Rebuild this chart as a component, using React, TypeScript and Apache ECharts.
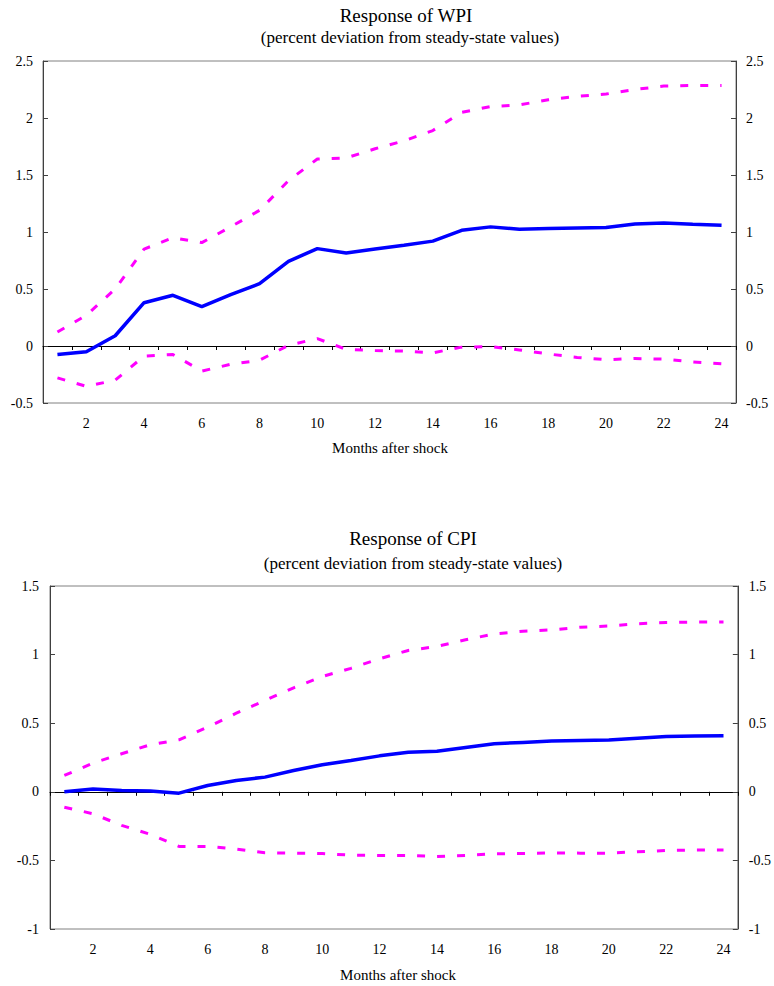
import React, { useEffect, useRef } from "react";
import * as echarts from "echarts";

const months = ["1", "2", "3", "4", "5", "6", "7", "8", "9", "10", "11", "12", "13", "14", "15", "16", "17", "18", "19", "20", "21", "22", "23", "24"];

const wpiResponse = [-0.075, -0.05, 0.09, 0.38, 0.445, 0.345, 0.45, 0.547, 0.743, 0.854, 0.816, 0.85, 0.883, 0.92, 1.015, 1.045, 1.025, 1.03, 1.035, 1.04, 1.07, 1.08, 1.067, 1.06];
const wpiUpper = [0.123, 0.27, 0.5, 0.85, 0.95, 0.907, 1.045, 1.19, 1.45, 1.64, 1.65, 1.73, 1.8, 1.89, 2.05, 2.1, 2.115, 2.16, 2.19, 2.21, 2.25, 2.28, 2.285, 2.285];
const wpiLower = [-0.28, -0.354, -0.3, -0.088, -0.075, -0.22, -0.16, -0.125, 0.006, 0.065, -0.03, -0.04, -0.045, -0.06, -0.01, -0.005, -0.035, -0.07, -0.1, -0.12, -0.11, -0.115, -0.14, -0.155];

const cpiResponse = [0, 0.02, 0.01, 0.005, -0.01, 0.046, 0.083, 0.107, 0.155, 0.197, 0.228, 0.262, 0.289, 0.296, 0.323, 0.35, 0.36, 0.37, 0.374, 0.377, 0.39, 0.403, 0.406, 0.408];
const cpiUpper = [0.119, 0.209, 0.277, 0.343, 0.379, 0.471, 0.573, 0.666, 0.758, 0.84, 0.9, 0.97, 1.03, 1.06, 1.108, 1.15, 1.17, 1.18, 1.2, 1.208, 1.225, 1.234, 1.237, 1.237];
const cpiLower = [-0.112, -0.16, -0.245, -0.31, -0.398, -0.398, -0.418, -0.445, -0.447, -0.45, -0.462, -0.464, -0.464, -0.471, -0.464, -0.452, -0.45, -0.445, -0.447, -0.447, -0.437, -0.428, -0.425, -0.425];

const FONT = "'Liberation Serif', 'Times New Roman', serif";

export default function App() {
  const ref = useRef<HTMLDivElement>(null);

  useEffect(() => {
    if (!ref.current) return;
    const chart = echarts.init(ref.current, undefined, { renderer: "svg" });

    const grids = [
      { left: 43, top: 61, width: 693, height: 342 },
      { left: 50, top: 586, width: 697, height: 343 },
    ];
    const yRanges = [
      { min: -0.5, max: 2.5 },
      { min: -1, max: 1.5 },
    ];

    const xAxes: any[] = [];
    const yAxes: any[] = [];
    grids.forEach((_, gi) => {
      xAxes.push({
        type: "category",
        gridIndex: gi,
        data: months,
        position: "bottom",
        boundaryGap: true,
        axisLine: { show: false, onZero: false },
        axisTick: { show: false },
        axisLabel: {
          interval: (index: number) => index % 2 === 1,
          color: "#000",
          fontFamily: FONT,
          fontSize: 14,
          margin: 13,
        },
        splitLine: { show: false },
      });
      xAxes.push({
        type: "category",
        gridIndex: gi,
        data: months,
        position: "top",
        boundaryGap: true,
        axisLine: { show: true, onZero: true, lineStyle: { color: "#000", width: 1 } },
        axisTick: { show: true, inside: true, length: 4, interval: 0, lineStyle: { color: "#000" } },
        axisLabel: { show: false },
        splitLine: { show: false },
      });
      ["left", "right"].forEach((pos) => {
        yAxes.push({
          type: "value",
          gridIndex: gi,
          position: pos,
          min: yRanges[gi].min,
          max: yRanges[gi].max,
          interval: 0.5,
          axisLine: { show: true, onZero: false, lineStyle: { color: "#404040", width: 1 } },
          axisTick: { show: true, inside: true, length: 5, lineStyle: { color: "#404040" } },
          axisLabel: {
            color: "#000",
            fontFamily: FONT,
            fontSize: 14,
            margin: gi === 0 ? 10 : 11,
          },
          splitLine: { show: false },
        });
      });
    });

    const mk = (data: number[], gi: number, dashed: boolean) => ({
      type: "line",
      xAxisIndex: gi * 2,
      yAxisIndex: gi * 2,
      data,
      symbol: "none",
      smooth: false,
      silent: true,
      lineStyle: dashed
        ? { color: "#ff00ff", width: 3, type: [8, 12], cap: "butt" }
        : { color: "#0000ff", width: 3.5 },
      z: dashed ? 3 : 4,
    });

    const text = (t: string, x: number, y: number, size: number) => ({
      type: "text",
      x,
      y,
      silent: true,
      style: {
        text: t,
        fill: "#000",
        font: `${size}px ${FONT}`,
        fontSize: size,
        fontFamily: FONT,
        align: "center",
        verticalAlign: "middle",
        textAlign: "center",
        textVerticalAlign: "middle",
      },
    });

    chart.setOption({
      animation: false,
      backgroundColor: "#fff",
      grid: grids.map((g) => ({ ...g, show: true, borderColor: "#808080", borderWidth: 1, backgroundColor: "transparent", containLabel: false })),
      xAxis: xAxes,
      yAxis: yAxes,
      series: [
        mk(wpiUpper, 0, true),
        mk(wpiLower, 0, true),
        mk(wpiResponse, 0, false),
        mk(cpiUpper, 1, true),
        mk(cpiLower, 1, true),
        mk(cpiResponse, 1, false),
      ],
      graphic: [
        text("Response of WPI", 406, 15, 19),
        text("(percent deviation from steady-state values)", 410, 37, 17),
        text("Months after shock", 390, 448, 15),
        text("Response of CPI", 413, 538, 19),
        text("(percent deviation from steady-state values)", 413, 563, 17),
        text("Months after shock", 398, 975, 15),
      ],
    });

    return () => chart.dispose();
  }, []);

  return (
    <div style={{ position: "absolute", left: 0, top: 0, width: 774, height: 986, overflow: "hidden", background: "#fff" }}>
      <div ref={ref} style={{ width: 774, height: 986 }} />
    </div>
  );
}
